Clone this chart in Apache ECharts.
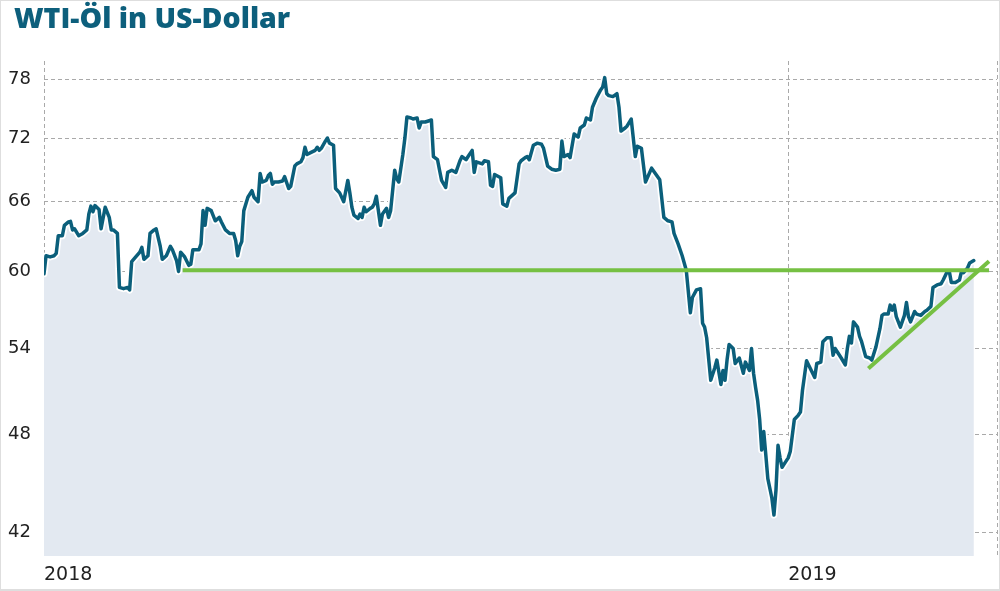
<!DOCTYPE html>
<html><head><meta charset="utf-8">
<script src="https://cdn.jsdelivr.net/npm/echarts@6/dist/echarts.min.js"></script>
<style>html,body{margin:0;padding:0;background:#fff}#c{width:1000px;height:591px;position:relative}
#frame{position:absolute;left:0;top:0;width:1000px;height:591px;box-sizing:border-box;border:1px solid #dedede;border-bottom:2px solid #dedede;pointer-events:none}</style>
</head><body><div id="c"></div><div id="frame"></div>
<script>
// days since 2018-01-01
const days = [0,1,3,5,6,7,9,10,12,13,14,15,17,19,21,22,23,24,25,27,28,30,32,33,34,36,37,39,41,42,43,45,47,48,49,51,52,54,55,57,58,60,62,63,65,66,67,69,71,72,73,76,77,78,79,80,82,84,86,87,89,91,93,94,95,96,97,98,100,102,103,105,106,107,109,110,111,112,113,115,117,118,120,121,123,124,126,127,128,129,131,133,134,135,136,138,139,140,142,143,145,147,149,150,151,152,154,155,156,157,158,160,161,162,163,165,166,168,169,170,172,173,174,176,177,178,180,181,183,184,185,187,190,191,193,194,195,197,198,200,202,204,205,207,208,210,211,212,215,216,218,219,220,221,224,225,227,228,231,233,234,236,237,238,240,242,244,245,247,249,251,253,254,255,257,258,260,262,263,265,266,268,269,271,273,274,275,276,277,279,281,282,283,285,286,288,290,291,293,295,298,302,304,306,308,309,311,313,314,315,317,318,320,322,323,324,325,327,329,330,332,333,334,335,336,338,339,341,343,344,346,347,348,349,350,351,352,353,354,355,357,358,359,360,361,362,363,365,366,368,370,371,372,374,375,378,379,381,382,384,386,387,388,391,393,394,395,396,397,399,400,401,403,405,406,408,410,411,412,414,415,416,417,418,420,422,423,424,425,427,428,430,432,433,435,436,438,440,441,443,444,445,447,449,450,451,453,454,456];
const prices = [59.8,61.3,61.2,61.3,61.5,63.0,63.0,63.9,64.2,64.25,63.5,63.6,63.0,63.2,63.5,64.9,65.6,65.1,65.65,65.3,63.6,65.5,64.6,63.5,63.5,63.2,58.7,58.6,58.7,58.5,60.8,61.2,61.6,62.0,61.0,61.3,63.2,63.5,63.6,62.1,61.0,61.3,62.1,61.8,60.9,60.0,61.6,61.2,60.5,60.6,61.8,61.8,62.3,65.2,63.9,65.4,65.2,64.3,64.6,64.2,63.5,63.2,63.2,62.6,61.3,62.1,62.5,65.2,66.4,67.0,66.4,66.0,68.6,67.8,67.95,68.4,68.6,67.6,67.8,67.8,67.9,68.3,67.2,67.4,69.3,69.5,69.7,70.1,71.1,70.4,70.6,70.8,71.1,70.8,71.0,71.7,72.0,71.5,71.3,67.2,66.8,66.0,67.95,66.8,65.5,64.8,64.5,64.9,64.6,65.5,65.1,65.4,65.5,65.8,66.5,63.9,64.9,65.4,64.6,65.2,68.9,68.1,67.8,70.4,72.0,74.1,74.0,73.9,74.0,73.0,73.6,73.6,73.8,70.2,69.9,68.9,67.95,67.3,68.7,68.9,68.7,69.8,70.2,69.9,70.2,70.8,68.7,69.7,69.5,69.8,69.7,67.5,67.4,68.5,68.2,65.8,65.6,66.3,66.8,69.5,69.8,70.1,70.2,69.9,71.3,71.5,71.4,71.0,69.3,69.0,68.9,69.0,71.7,70.2,70.4,70.1,72.4,72.1,73.0,73.3,74.0,73.8,75.1,76.1,76.9,77.2,78.2,76.5,76.3,76.2,76.5,75.1,72.7,73.0,73.2,73.9,70.2,71.2,71.0,67.8,69.1,68.0,64.6,64.3,64.2,63.2,62.3,61.3,60.7,60.1,56.7,57.9,58.5,58.6,55.9,55.6,54.8,51.7,52.6,53.15,51.4,52.4,51.7,53.15,54.3,54.0,52.9,53.3,52.2,53.0,52.4,54.0,52.2,51.2,50.3,49.0,47.0,48.2,46.7,45.2,44.0,43.0,44.5,47.3,46.5,45.9,46.1,46.5,46.9,49.0,49.3,49.5,51.0,53.1,52.8,51.9,52.9,53.0,54.5,54.8,54.8,53.5,54.0,53.3,52.8,54.0,54.9,54.4,56.0,55.6,54.9,54.5,53.4,53.3,53.15,54.1,55.5,56.5,56.6,56.6,57.3,56.9,57.3,56.4,55.6,56.5,57.5,56.4,56.0,56.8,56.6,56.5,56.8,56.9,57.2,58.7,58.9,59.0,59.3,60.0,60.0,59.1,59.1,59.3,60.0,59.9,60.3,60.7,60.9];
const yTicks = [42,48,54,60,66,72,78];
const yMin = 40.66, yMax = 80;
const firstYear = 2018;
const resistanceLine = [[68, 60.1],[463.5, 60.1]];
const trendLine = [[404.3, 52.55],[463.5, 60.84]];

const n = Math.min(days.length, prices.length);
const pts = [];
for (let i = 0; i < n; i++) pts.push([days[i], prices[i]]);
const chart = echarts.init(document.getElementById('c'), null, {renderer:'canvas'});
const gridColor = '#a9a9a9';
const font = 'DejaVu Sans';
chart.setOption({
  animation:false,
  title:{text:'WTI-Öl in US-Dollar', left:9, top:0,
    textStyle:{fontFamily:'Open Sans', fontWeight:800, fontSize:28.5, color:'#0d5f7c'}},
  grid:{left:44, right:0, top:61, bottom:35},
  xAxis:{type:'value', min:0, max:467.4, interval:365,
    axisLine:{show:false}, axisTick:{show:false},
    splitLine:{show:true, lineStyle:{color:gridColor, type:[4,3], width:1}},
    axisLabel:{align:'left', margin:10, fontFamily:font, fontSize:19, color:'#222',
      formatter:v=>(v===0||v===365)?String(firstYear + v/365):''}},
  yAxis:{type:'log', logBase:10, min:yMin, max:yMax,
    axisLine:{show:false},
    axisTick:{show:false, customValues:yTicks},
    splitLine:{show:true, lineStyle:{color:gridColor, type:[4,3], width:1}},
    axisLabel:{customValues:yTicks, margin:13, fontFamily:font, fontSize:18, color:'#222',
      formatter:v=>String(Math.round(v))}},
  series:[
    {type:'custom', z:2, silent:true, clip:true, data:[[0, yMin]],
      renderItem:(params, api)=>{
        const line = pts.map(p=>api.coord(p));
        const last = pts[pts.length-1][0];
        const poly = line.concat([api.coord([last, yMin]), api.coord([0, yMin])]);
        return {type:'group', children:[
          {type:'polygon', shape:{points:poly}, style:{fill:'#e3e9f1', stroke:null}},
          {type:'polyline', shape:{points:line}, style:{fill:null, stroke:'#ffffff', lineWidth:7, lineJoin:'round', lineCap:'round'}},
          {type:'polyline', shape:{points:line}, style:{fill:null, stroke:'#0b5f7b', lineWidth:3.5, lineJoin:'round', lineCap:'round'}}
        ]};
      }},
    {type:'line', data:resistanceLine, showSymbol:false, z:4,
      lineStyle:{color:'#76c043', width:4}},
    {type:'line', data:trendLine, showSymbol:false, z:4,
      lineStyle:{color:'#76c043', width:4}}
  ]
});
</script></body></html>
